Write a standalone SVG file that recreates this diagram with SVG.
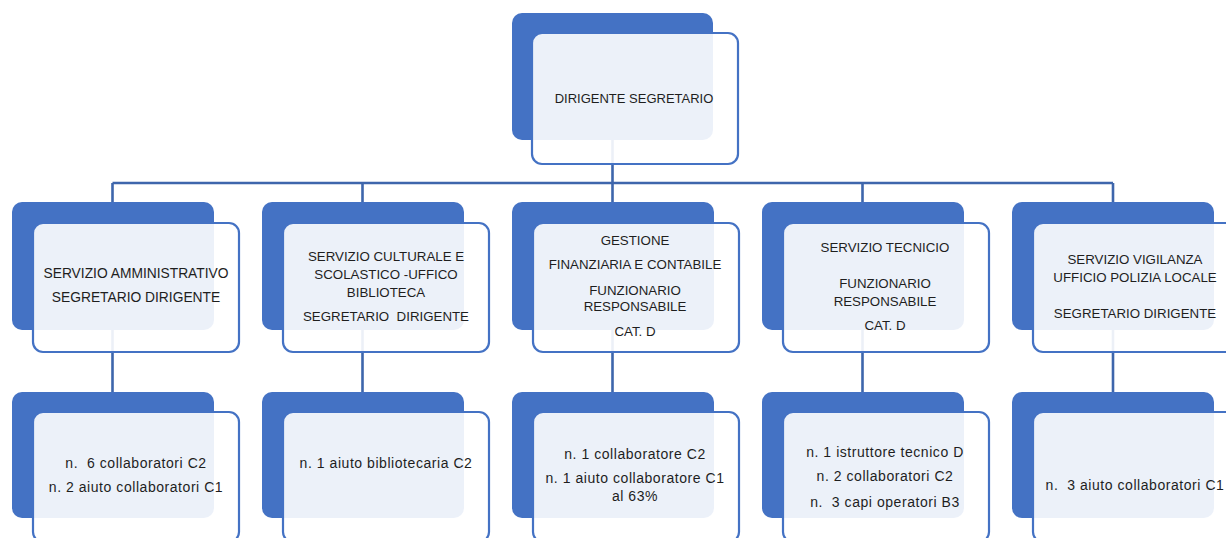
<svg xmlns="http://www.w3.org/2000/svg" width="1226" height="538" viewBox="0 0 1226 538">
<style>
.back{fill:#4472C4;}
.front{fill:#ffffff;fill-opacity:0.9;stroke:#4472C4;stroke-width:2.2;}
.conn{stroke:#3E66AC;stroke-width:2.6;fill:none;}
text{font-family:"Liberation Sans",Arial,sans-serif;font-size:13.3px;fill:#1e1e1e;text-anchor:middle;}
.s{font-size:14px;letter-spacing:0.55px;}
</style>
<rect width="1226" height="538" fill="#ffffff"/>
<g id="connectors">
<path class="conn" d="M612.5 140 V183 M112.5 183 H1113 M112.5 183 V203 M362.5 183 V203 M612.5 183 V203 M862.5 183 V203 M1113 183 V203"/>
<path class="conn" d="M112.5 329 V393 M362.5 329 V393 M612.5 329 V393 M862.5 329 V393 M1113 329 V393"/>
</g>
<g id="n-dirigente">
<rect class="back" x="512" y="13" width="201" height="127" rx="10"/>
<rect class="front" x="532" y="33" width="206" height="131" rx="10"/>
<text x="634" y="103" style="font-size:13px">DIRIGENTE SEGRETARIO</text>
</g>
<g id="n-amministrativo">
<rect class="back" x="12" y="202" width="202" height="128" rx="10"/>
<rect class="front" x="33" y="223" width="206" height="129" rx="10"/>
<text x="136" y="278" style="font-size:13.8px">SERVIZIO AMMINISTRATIVO</text>
<text x="136" y="302" style="font-size:13.8px">SEGRETARIO DIRIGENTE</text>
</g>
<g id="n-culturale">
<rect class="back" x="262" y="202" width="202" height="128" rx="10"/>
<rect class="front" x="283" y="223" width="206" height="129" rx="10"/>
<text x="386" y="261">SERVIZIO CULTURALE E</text>
<text x="386" y="279">SCOLASTICO -UFFICO</text>
<text x="386" y="297">BIBLIOTECA</text>
<text x="386" y="321" xml:space="preserve">SEGRETARIO  DIRIGENTE</text>
</g>
<g id="n-finanziaria">
<rect class="back" x="512" y="202" width="202" height="128" rx="10"/>
<rect class="front" x="533" y="223" width="206" height="129" rx="10"/>
<text x="635" y="245">GESTIONE</text>
<text x="635" y="269">FINANZIARIA E CONTABILE</text>
<text x="635" y="295">FUNZIONARIO</text>
<text x="635" y="311">RESPONSABILE</text>
<text x="635" y="336">CAT. D</text>
</g>
<g id="n-tecnico">
<rect class="back" x="762" y="202" width="202" height="128" rx="10"/>
<rect class="front" x="783" y="223" width="206" height="129" rx="10"/>
<text x="885" y="252">SERVIZIO TECNICIO</text>
<text x="885" y="288">FUNZIONARIO</text>
<text x="885" y="306">RESPONSABILE</text>
<text x="885" y="330">CAT. D</text>
</g>
<g id="n-vigilanza">
<rect class="back" x="1012" y="202" width="202" height="128" rx="10"/>
<rect class="front" x="1033" y="223" width="206" height="129" rx="10"/>
<text x="1135" y="264">SERVIZIO VIGILANZA</text>
<text x="1135" y="282">UFFICIO POLIZIA LOCALE</text>
<text x="1135" y="318">SEGRETARIO DIRIGENTE</text>
</g>
<g id="n-amm-staff">
<rect class="back" x="12" y="392" width="202" height="126" rx="10"/>
<rect class="front" x="33" y="412" width="206" height="130" rx="10"/>
<text class="s" x="136" y="468" xml:space="preserve">n.  6 collaboratori C2</text>
<text class="s" x="136" y="492">n. 2 aiuto collaboratori C1</text>
</g>
<g id="n-cult-staff">
<rect class="back" x="262" y="392" width="202" height="126" rx="10"/>
<rect class="front" x="283" y="412" width="206" height="130" rx="10"/>
<text class="s" x="386" y="468">n. 1 aiuto bibliotecaria C2</text>
</g>
<g id="n-fin-staff">
<rect class="back" x="512" y="392" width="202" height="126" rx="10"/>
<rect class="front" x="533" y="412" width="206" height="130" rx="10"/>
<text class="s" x="635" y="459">n. 1 collaboratore C2</text>
<text class="s" x="635" y="483">n. 1 aiuto collaboratore C1</text>
<text class="s" x="635" y="501">al 63%</text>
</g>
<g id="n-tec-staff">
<rect class="back" x="762" y="392" width="202" height="126" rx="10"/>
<rect class="front" x="783" y="412" width="206" height="130" rx="10"/>
<text class="s" x="885" y="457">n. 1 istruttore tecnico D</text>
<text class="s" x="885" y="481">n. 2 collaboratori C2</text>
<text class="s" x="885" y="507" xml:space="preserve">n.  3 capi operatori B3</text>
</g>
<g id="n-vig-staff">
<rect class="back" x="1012" y="392" width="202" height="126" rx="10"/>
<rect class="front" x="1033" y="412" width="206" height="130" rx="10"/>
<text class="s" x="1135" y="490" xml:space="preserve">n.  3 aiuto collaboratori C1</text>
</g>
</svg>
